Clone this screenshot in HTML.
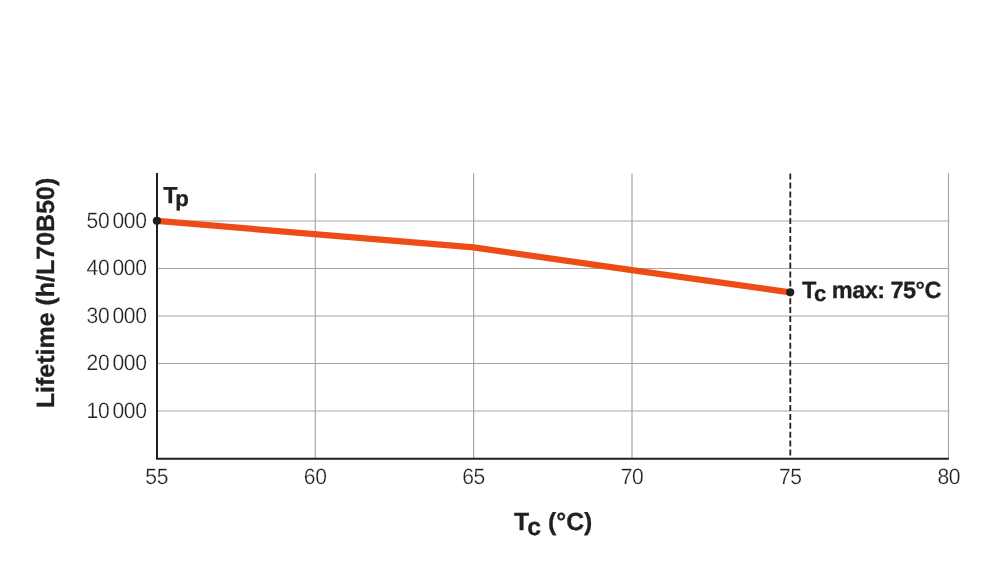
<!DOCTYPE html>
<html>
<head>
<meta charset="utf-8">
<style>
html,body{margin:0;padding:0;background:#fff;width:1000px;height:585px;overflow:hidden;}
svg{display:block;will-change:transform;}
text{font-family:"Liberation Sans", sans-serif;fill:#231f20;text-rendering:geometricPrecision;}
.tick{font-size:22.2px;letter-spacing:-0.4px;stroke:#fff;stroke-width:0.25px;}
.bold{font-weight:bold;stroke:#231f20;stroke-width:0.3px;}
</style>
</head>
<body>
<svg width="1000" height="585" viewBox="0 0 1000 585">
<!-- grid -->
<g stroke="#a8a6a9" stroke-width="1.2" fill="none">
<line x1="157" y1="221" x2="948.5" y2="221"/>
<line x1="157" y1="268.5" x2="948.5" y2="268.5"/>
<line x1="157" y1="316" x2="948.5" y2="316"/>
<line x1="157" y1="363.5" x2="948.5" y2="363.5"/>
<line x1="157" y1="411" x2="948.5" y2="411"/>
<line x1="315.3" y1="173.3" x2="315.3" y2="458.7"/>
<line x1="473.6" y1="173.3" x2="473.6" y2="458.7"/>
<line x1="632" y1="173.3" x2="632" y2="458.7"/>
<line x1="948.5" y1="173.3" x2="948.5" y2="458.7"/>
</g>
<!-- dashed -->
<line x1="790.3" y1="173.6" x2="790.3" y2="458" stroke="#231f20" stroke-width="1.8" stroke-dasharray="6 2.9"/>
<!-- axes -->
<path d="M157 173 V458.7 H948.8" stroke="#231f20" stroke-width="2" fill="none"/>
<!-- data line -->
<polyline points="157,220.9 473.6,247.4 632,270.1 790.3,292.4" stroke="#ee4c16" stroke-width="6.2" fill="none" stroke-linejoin="round"/>
<circle cx="156.9" cy="220.8" r="4.1" fill="#231f20"/>
<circle cx="790.2" cy="292.3" r="4.1" fill="#231f20"/>
<!-- y tick labels -->
<g class="tick" text-anchor="end">
<text transform="translate(146.5,227.9) scale(0.95,1)">50<tspan dx="3.4">000</tspan></text>
<text transform="translate(146.5,275.4) scale(0.95,1)">40<tspan dx="3.4">000</tspan></text>
<text transform="translate(146.5,322.9) scale(0.95,1)">30<tspan dx="3.4">000</tspan></text>
<text transform="translate(146.5,370.4) scale(0.95,1)">20<tspan dx="3.4">000</tspan></text>
<text transform="translate(146.5,417.9) scale(0.95,1)">10<tspan dx="3.4">000</tspan></text>
</g>
<!-- x tick labels -->
<g class="tick" text-anchor="middle">
<text transform="translate(156.7,483.6) scale(0.95,1)">55</text>
<text transform="translate(315.2,483.6) scale(0.95,1)">60</text>
<text transform="translate(473.6,483.6) scale(0.95,1)">65</text>
<text transform="translate(632,483.6) scale(0.95,1)">70</text>
<text transform="translate(790.3,483.6) scale(0.95,1)">75</text>
<text transform="translate(948.8,483.6) scale(0.95,1)">80</text>
</g>
<!-- y title -->
<text class="bold" font-size="25" transform="translate(53.9,408.3) rotate(-90)">Lifetime (h/L70B50)</text>
<!-- x title -->
<text class="bold" font-size="24.8" x="514" y="529.7">T<tspan dy="5.5">c</tspan><tspan dy="-5.5"> (°C)</tspan></text>
<!-- Tp -->
<text class="bold" font-size="23.2" x="163.2" y="202.7">T<tspan dx="-2.0" dy="3.0" font-size="22.2">p</tspan></text>
<!-- Tc max -->
<text class="bold" font-size="23.5" x="802.1" y="297.6">T<tspan dx="-2.5" dy="3.2" font-size="22.2">c</tspan><tspan dx="-0.4" dy="-3.2" style="letter-spacing:-0.55px"> max: 75°C</tspan></text>
</svg>
</body>
</html>
